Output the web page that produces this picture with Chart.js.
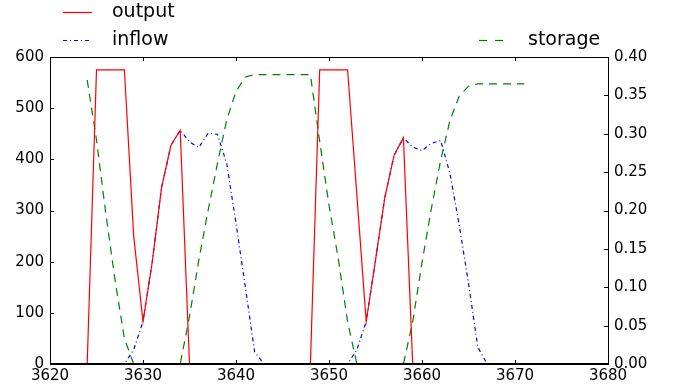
<!DOCTYPE html>
<html>
<head>
<meta charset="utf-8">
<script src="https://cdn.jsdelivr.net/npm/chart.js@4.4.0/dist/chart.umd.min.js"></script>
<style>
  html, body { margin: 0; padding: 0; background: #fff; }
  #wrap { width: 673px; height: 389px; position: relative; }
</style>
</head>
<body>
<div id="wrap"><canvas id="grafico"></canvas></div>
<script>
// time steps 3624..3671
const times = [3624, 3625, 3626, 3627, 3628, 3629, 3630, 3631, 3632, 3633, 3634, 3635,
  3636, 3637, 3638, 3639, 3640, 3641, 3642, 3643, 3644, 3645, 3646, 3647,
  3648, 3649, 3650, 3651, 3652, 3653, 3654, 3655, 3656, 3657, 3658, 3659,
  3660, 3661, 3662, 3663, 3664, 3665, 3666, 3667, 3668, 3669, 3670, 3671];

const output = [0, 575, 575, 575, 575, 250, 83, 200, 345, 427, 457, 0,
  0, 0, 0, 0, 0, 0, 0, 0, 0, 0, 0, 0,
  0, 575, 575, 575, 575, 329, 83, 203, 325, 408, 442, 0,
  0, 0, 0, 0, 0, 0, 0, 0, 0, 0, 0, 0];

const inflow = [0, 0, 0, 0, 0, 28, 83, 200, 345, 427, 457, 434,
  423, 451, 449, 392, 275, 151, 24, 0, 0, 0, 0, 0,
  0, 0, 0, 0, 0, 28, 83, 203, 325, 408, 442, 424,
  417, 431, 437, 373, 272, 158, 33, 0, 0, 0, 0, 0];

const storage = [0.370, 0.292, 0.196, 0.109, 0.033, 0, 0, 0, 0, 0, 0, 0.062,
  0.135, 0.200, 0.261, 0.318, 0.355, 0.374, 0.377, 0.377, 0.377, 0.377, 0.377, 0.377,
  0.377, 0.290, 0.207, 0.137, 0.055, 0, 0, 0, 0, 0, 0, 0.055,
  0.132, 0.202, 0.265, 0.317, 0.349, 0.362, 0.365, 0.365, 0.365, 0.365, 0.365, 0.365];

const xTicks = [3620, 3630, 3640, 3650, 3660, 3670, 3680];

const pts = (arr) => arr.map((v, i) => ({ x: times[i], y: v }));

const FONT = 'DejaVu Sans';

// matplotlib-like frame, inward ticks and legend above the axes
const framePlugin = {
  id: 'frame',
  afterDraw(chart) {
    const c = chart.ctx;
    const a = chart.chartArea;
    c.save();
    c.strokeStyle = '#000';
    c.lineWidth = 1;
    c.strokeRect(Math.round(a.left) + 0.5, Math.round(a.top) + 0.5,
      Math.round(a.right - a.left), Math.round(a.bottom - a.top));
    // bottom spine a bit heavier, it hides the zero runs like the original
    c.beginPath();
    c.lineWidth = 2;
    c.moveTo(a.left, Math.round(a.bottom));
    c.lineTo(a.right + 1, Math.round(a.bottom));
    c.stroke();

    const L = 4;
    c.lineWidth = 1;
    c.beginPath();
    chart.scales.x.ticks.forEach(t => {
      const px = Math.round(chart.scales.x.getPixelForValue(t.value)) + 0.5;
      c.moveTo(px, a.bottom); c.lineTo(px, a.bottom - L);
      c.moveTo(px, a.top); c.lineTo(px, a.top + L);
    });
    chart.scales.y.ticks.forEach(t => {
      const py = Math.round(chart.scales.y.getPixelForValue(t.value)) + 0.5;
      c.moveTo(a.left, py); c.lineTo(a.left + L, py);
    });
    chart.scales.y2.ticks.forEach(t => {
      const py = Math.round(chart.scales.y2.getPixelForValue(t.value)) + 0.5;
      c.moveTo(a.right, py); c.lineTo(a.right - L, py);
    });
    c.stroke();

    // legend
    const items = [
      { label: 'output', color: '#ff0000', dash: [], x: 63, y: 12 },
      { label: 'inflow', color: '#0000ff', dash: [4, 3, 1, 3], x: 63, y: 40 },
      { label: 'storage', color: '#008000', dash: [8, 8], x: 479, y: 40 }
    ];
    items.forEach(it => {
      c.beginPath();
      c.setLineDash(it.dash);
      c.strokeStyle = it.color;
      c.lineWidth = 1.2;
      c.moveTo(it.x, it.y + 0.5);
      c.lineTo(it.x + 29, it.y + 0.5);
      c.stroke();
      c.setLineDash([]);
      c.fillStyle = '#000';
      c.font = '19px ' + FONT;
      c.textBaseline = 'middle';
      c.textAlign = 'left';
      c.fillText(it.label, it.x + 49, it.y);
    });
    c.restore();
  }
};

document.addEventListener('DOMContentLoaded', function() {
  const ctx = document.getElementById('grafico').getContext('2d');

  Chart.defaults.font.family = FONT;
  Chart.defaults.font.size = 15;
  Chart.defaults.color = '#000';

  const config = {
    type: 'line',
    data: {
      datasets: [
        {
          label: 'output',
          data: pts(output),
          yAxisID: 'y',
          borderColor: '#ff0000',
          borderWidth: 1.2,
          pointRadius: 0,
          fill: false,
          tension: 0
        },
        {
          label: 'inflow',
          data: pts(inflow),
          yAxisID: 'y',
          borderColor: '#0000ff',
          borderWidth: 1.2,
          borderDash: [4, 3, 1, 3],
          pointRadius: 0,
          fill: false,
          tension: 0
        },
        {
          label: 'storage',
          data: pts(storage),
          yAxisID: 'y2',
          borderColor: '#008000',
          borderWidth: 1.2,
          borderDash: [8, 6],
          pointRadius: 0,
          fill: false,
          tension: 0
        }
      ]
    },
    options: {
      responsive: false,
      animation: false,
      layout: { padding: { top: 57, left: 0, right: 0, bottom: 0 } },
      plugins: { legend: { display: false }, tooltip: { enabled: false } },
      scales: {
        x: {
          type: 'linear',
          min: 3620,
          max: 3680,
          afterBuildTicks: (s) => { s.ticks = xTicks.map(v => ({ value: v })); },
          afterFit: (s) => { s.height = 25; },
          grid: { display: false, drawTicks: false },
          border: { display: false },
          ticks: { padding: 3, maxRotation: 0, autoSkip: false, callback: (v) => String(v) }
        },
        y: {
          position: 'left',
          min: 0,
          max: 600,
          afterFit: (s) => { s.width = 50; },
          grid: { display: false, drawTicks: false },
          border: { display: false },
          ticks: { stepSize: 100, padding: 6 }
        },
        y2: {
          position: 'right',
          min: 0,
          max: 0.4,
          afterFit: (s) => { s.width = 65; },
          grid: { display: false, drawTicks: false },
          border: { display: false },
          ticks: { stepSize: 0.05, padding: 6, callback: (v) => v.toFixed(2) }
        }
      }
    },
    plugins: [framePlugin]
  };

  const canvas = document.getElementById('grafico');
  canvas.width = 673;
  canvas.height = 389;
  new Chart(ctx, config);
});
</script>
</body>
</html>
